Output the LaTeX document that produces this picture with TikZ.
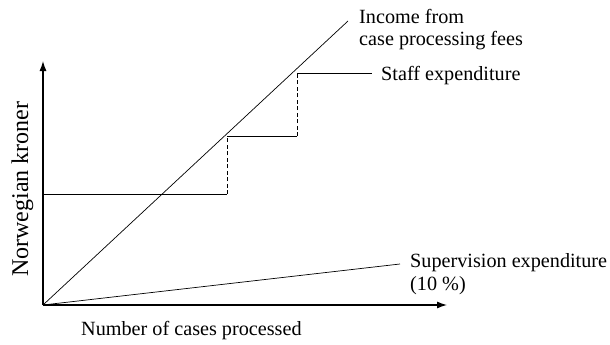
\documentclass[tikz,border=0pt]{standalone}
\usepackage{fontspec}
\setmainfont{Liberation Serif}
\usetikzlibrary{arrows.meta}
\begin{document}
\begin{tikzpicture}[x=1pt,y=-1pt,
  axis/.style={line width=1.2pt,-{Latex[length=10pt,width=7pt]}},
  curve/.style={line width=0.7pt},
  stepline/.style={line width=0.8pt},
  riser/.style={line width=0.9pt,dash pattern=on 4pt off 2.5pt},
  lbl/.style={inner sep=0pt,anchor=base west,font=\fontsize{20.2}{22.5}\selectfont,align=left}]
\useasboundingbox (0,0) rectangle (610,345);

% reference points
\coordinate (O) at (43,305);
\coordinate (ytip) at (43,61);
\coordinate (xtip) at (447,305);
\coordinate (inc) at (348,21);
\coordinate (sup) at (400,264);
\coordinate (s1) at (43,194);
\coordinate (s2) at (227,194);
\coordinate (s3) at (227,136);
\coordinate (s4) at (297,136);
\coordinate (s5) at (297,73);
\coordinate (s6) at (372,73);

% axes
\draw[axis] (O) -- (ytip);
\draw[axis] (O) -- (xtip);

% income and supervision lines
\draw[curve] (O) -- (inc);
\draw[curve] (O) -- (sup);

% staff expenditure as steps
\draw[stepline] (s1) -- (s2);
\draw[riser] (s2) -- (s3);
\draw[stepline] (s3) -- (s4);
\draw[riser] (s4) -- (s5);
\draw[stepline] (s5) -- (s6);

% labels (base anchor of a two-line label sits on its last line)
\node[lbl] (incl) at (359,46) {Income from\\case processing fees};
\node[lbl] (staffl) at (381,81) {Staff expenditure};
\node[lbl] (supl) at (410,290) {Supervision expenditure\\(10 \%)};
\node[lbl] (xl) at (81,335) {Number of cases processed};
\node[inner sep=0pt,anchor=base west,rotate=90,font=\fontsize{24}{26}\selectfont] (yl) at (28,277) {Norwegian kroner};
\end{tikzpicture}
\end{document}
